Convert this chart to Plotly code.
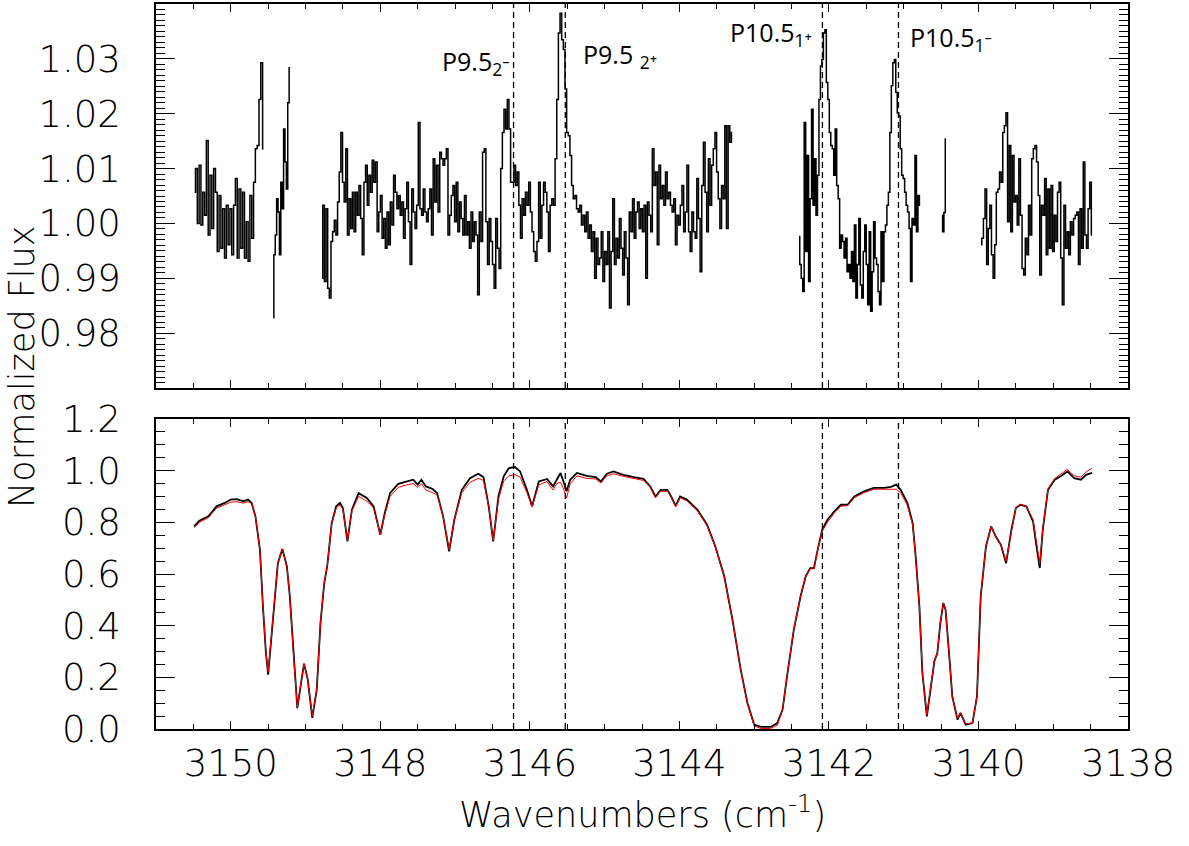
import numpy as np
import plotly.graph_objects as go

# ---------------- Top panel: residual spectrum (segments separated by gaps) ----------------
seg_bounds = [  # (start wavenumber, end wavenumber) for each contiguous data segment
    (3150.484, 3149.562),
    (3149.433, 3149.210),
    (3148.781, 3143.293),
    (3142.400, 3140.780),
    (3140.489, 3140.435),
    (3139.966, 3138.480),
]
seg_a = [1.0057, 1.010, 1.000, 1.0106, 0.9997, 1.0057, 1.0015, 1.0151, 0.9979, 1.0088, 0.9991,
         1.010, 1.0057, 0.9949, 1.0051, 0.9955, 1.0027, 0.9937, 1.0033, 0.9961, 1.0027, 0.9943,
         1.0033, 1.0082, 0.9937, 1.0063, 0.9955, 1.0057, 0.9937, 1.0003, 0.9931, 1.0051, 0.9973,
         1.0075, 1.0136, 1.0142, 1.0226, 1.0293, 1.0136]
seg_b = [0.9828, 0.9943, 0.9979, 1.0045, 1.0021, 0.9943, 1.0075, 1.0027, 1.0172, 1.0112, 1.0063,
         1.022, 1.0284]
seg_c = [0.9900, 1.0033, 0.9894, 1.0027, 0.9882, 0.9864, 0.9967, 0.9985, 1.0006, 0.9979, 1.0039,
         1.0094, 1.0166, 1.0075, 1.0039, 1.0136, 0.9979, 1.0045, 0.9991, 1.0057, 0.9985, 1.0057,
         1.0015, 1.0069, 1.0009, 0.9943, 1.0075, 1.0106, 1.0033, 1.0088, 1.0057, 1.0115, 1.0075,
         1.0112, 0.9985, 1.0021, 1.0051, 0.9973, 1.0009, 0.9955, 1.0021, 0.9961, 1.0039, 0.9997,
         1.0088, 1.0057, 1.0027, 1.0051, 1.0015, 1.0039, 0.9973, 1.0027, 1.0075, 1.0003, 0.9925,
         1.0063, 1.0021, 0.9991, 1.0033, 1.0184, 1.0027, 1.0015, 1.0063, 1.0021, 1.0003, 1.0027,
         1.0063, 0.9979, 1.0118, 1.0039, 1.0106, 1.0021, 1.013, 1.0118, 1.0106, 1.0118, 1.0136,
         0.9979, 1.0015, 1.0051, 1.0069, 1.0003, 1.0075, 0.9985, 1.0039, 1.0009, 0.9979, 1.0051,
         0.9979, 1.0003, 0.9955, 1.0021, 0.9967, 1.0003, 0.9979, 0.9870, 1.0021, 0.9967, 1.013,
         1.0136, 1.0003, 0.9925, 1.0009, 0.9967, 0.9925, 0.9882, 1.0009, 0.9955, 0.9918, 1.010,
         1.0166, 1.0208, 1.0172, 1.0226, 1.0172, 1.0075,
         1.0075, 1.0106, 1.0069, 1.0094, 1.0033, 0.9973, 1.0045, 1.0015, 1.0057, 1.0033, 1.0075,
         1.0021, 0.9985, 0.9949, 0.9931, 0.9967, 1.0075, 0.9973, 1.0033, 1.0075, 1.0057, 1.0021,
         0.9949, 1.0033, 1.0045, 1.0033, 1.0118, 1.0226, 1.0347, 1.0383, 1.0335, 1.0317, 1.0245,
         1.0166, 1.016, 1.0124, 1.0069, 1.0045, 1.0051, 1.0027, 1.0021, 1.0033, 0.9997, 1.0015,
         0.9985, 1.0021, 0.9973, 0.9997, 0.9949, 0.9985, 0.9900, 0.9973, 0.9925, 0.9937, 0.9985,
         0.9894, 0.9949, 0.9925, 0.9985, 0.9846, 0.9949, 1.0045, 0.9925, 0.9973, 0.9937, 1.0009,
         0.9955, 0.9906, 0.9985, 0.9937, 0.9852, 1.0021, 0.9985, 1.0045, 0.9973, 1.0021, 1.0039,
         0.9991, 1.0027, 0.9985, 1.0033, 0.9900, 1.0039, 1.0015, 0.9985, 1.0136, 1.0069, 1.0094,
         0.9961, 1.0106, 1.0045, 1.0069, 1.0033, 1.0094, 1.0045, 1.0057, 1.0033, 1.0021, 1.0045,
         0.9961, 1.0015, 0.9997, 1.0033, 1.0069, 0.9985, 1.0021, 1.0106, 0.9985, 0.9949, 1.0021,
         0.9985, 0.9973, 1.0082, 1.0009, 0.9912, 1.0069, 1.0148, 1.0057, 0.9985, 1.0118, 1.0033,
         1.0106, 1.0136, 1.0166, 1.0094, 1.0045, 0.9991, 1.0069, 1.0045, 1.0178, 0.9991, 1.0178,
         1.0148, 1.0166]
seg_d = [0.9976, 0.9925, 0.9900, 0.9876, 1.0184, 0.9949, 1.0124, 0.9894, 1.0045, 1.0208, 1.0033,
         1.0118, 1.0015, 1.0088, 1.0226, 1.0287, 1.0299, 1.0347, 1.0353, 1.0257, 1.0226, 1.0166,
         1.0142, 1.0136, 1.0088, 1.0172, 1.0069, 1.0045, 0.9955, 0.9979, 0.9967, 0.9937, 0.9973,
         0.9912, 0.9925, 0.9900, 0.9949, 0.9894, 0.9997, 0.9864, 0.9925, 1.0009, 0.9888, 0.9864,
         0.9949, 0.9997, 0.9925, 0.9852, 0.9985, 0.9840, 0.9912, 1.0003, 0.9937, 0.9925, 0.9876,
         0.9852, 0.9985, 0.9894, 0.9985, 0.9997, 1.0033, 1.0057, 1.0166, 1.0251, 1.0293, 1.0299,
         1.0239, 1.0202, 1.0196, 1.0136, 1.0088, 1.0082, 1.0057, 1.0033, 1.0021, 0.9991, 0.9894,
         1.0009, 0.9997, 1.0124, 0.9985, 1.0051, 1.0033]
seg_e = [1.0015, 0.9985, 1.0020, 1.0154]
seg_f = [0.9961, 0.9973, 1.0009, 1.0063, 0.9925, 0.9991, 1.0033, 0.9943, 0.9900, 0.9961, 1.0057,
         1.0063, 1.0094, 1.0075, 1.0166, 1.0178, 1.0202, 1.0003, 1.0142, 0.9985, 1.0124, 1.0039,
         1.0051, 0.9997, 1.0118, 1.0015, 0.9918, 0.9906, 0.9973, 0.9943, 1.0033, 0.9979, 1.0118,
         1.0136, 1.0142, 1.0112, 1.0051, 0.9906, 1.0033, 1.0015, 1.0082, 0.9943, 1.0063, 0.9955,
         1.0069, 0.9949, 1.0015, 0.9967, 1.0057, 1.0075, 0.9937, 0.9852, 1.0033, 0.9955, 0.9985,
         0.9943, 1.0003, 0.9979, 1.0009, 1.0015, 1.0021, 0.9925, 1.0027, 0.9955, 1.0112, 0.9979,
         0.9955, 1.0027, 1.0075, 0.9979]
top_segments = [seg_a, seg_b, seg_c, seg_d, seg_e, seg_f]

# ---------------- Bottom panel: observed (black) and model (red) ----------------
wn_bottom = [3150.49, 3150.42, 3150.30, 3150.19, 3150.08, 3150.00, 3149.92, 3149.83, 3149.77, 3149.72,
             3149.67, 3149.61, 3149.57, 3149.53, 3149.50, 3149.47, 3149.41, 3149.37, 3149.31, 3149.25,
             3149.21, 3149.16, 3149.11, 3149.06, 3149.02, 3148.97, 3148.91, 3148.85, 3148.80, 3148.75,
             3148.71, 3148.65, 3148.59, 3148.54, 3148.50, 3148.44, 3148.38, 3148.29, 3148.18, 3148.09,
             3148.00, 3147.94, 3147.87, 3147.76, 3147.65, 3147.56, 3147.50, 3147.45, 3147.39, 3147.30,
             3147.24, 3147.16, 3147.08, 3147.01, 3146.91, 3146.80, 3146.69, 3146.62, 3146.55, 3146.49,
             3146.42, 3146.35, 3146.28, 3146.20, 3146.13, 3146.04, 3145.97, 3145.88, 3145.77, 3145.69,
             3145.64, 3145.59, 3145.55, 3145.51, 3145.46, 3145.37, 3145.24, 3145.12, 3145.05, 3144.97,
             3144.88, 3144.75, 3144.61, 3144.48, 3144.39, 3144.32, 3144.25, 3144.16, 3144.11, 3144.05,
             3143.99, 3143.90, 3143.76, 3143.63, 3143.52, 3143.40, 3143.29, 3143.18, 3143.09, 3143.00,
             3142.91, 3142.78, 3142.69, 3142.62, 3142.56, 3142.47, 3142.38, 3142.31, 3142.25, 3142.20,
             3142.16, 3142.09, 3142.02, 3141.93, 3141.84, 3141.75, 3141.66, 3141.53, 3141.40, 3141.26,
             3141.17, 3141.10, 3141.04, 3140.95, 3140.88, 3140.84, 3140.79, 3140.75, 3140.69, 3140.64,
             3140.59, 3140.55, 3140.51, 3140.47, 3140.44, 3140.39, 3140.35, 3140.28, 3140.24, 3140.17,
             3140.08, 3140.02, 3139.97, 3139.90, 3139.83, 3139.77, 3139.70, 3139.63, 3139.56, 3139.50,
             3139.44, 3139.36, 3139.27, 3139.23, 3139.18, 3139.14, 3139.07, 3138.98, 3138.90, 3138.81,
             3138.72, 3138.63, 3138.56, 3138.48]
flux_obs = [0.784, 0.806, 0.823, 0.862, 0.875, 0.888, 0.890, 0.881, 0.888, 0.875,
            0.823, 0.694, 0.475, 0.294, 0.210, 0.307, 0.513, 0.642, 0.697, 0.630,
            0.513, 0.281, 0.081, 0.178, 0.253, 0.191, 0.043, 0.152, 0.410, 0.565,
            0.630, 0.797, 0.862, 0.875, 0.855, 0.726, 0.849, 0.913, 0.894, 0.862,
            0.752, 0.836, 0.913, 0.949, 0.958, 0.965, 0.946, 0.965, 0.939, 0.929,
            0.913, 0.823, 0.688, 0.810, 0.926, 0.971, 0.988, 0.975, 0.862, 0.726,
            0.900, 0.978, 1.010, 1.014, 0.997, 0.926, 0.862, 0.958, 0.968, 0.939,
            0.965, 0.991, 0.958, 0.920, 0.965, 0.991, 0.980, 0.975, 0.958, 0.988,
            0.997, 0.984, 0.975, 0.968, 0.939, 0.900, 0.926, 0.926, 0.900, 0.864,
            0.900, 0.888, 0.849, 0.791, 0.707, 0.591, 0.423, 0.230, 0.101, 0.017,
            0.008, 0.008, 0.023, 0.075, 0.204, 0.384, 0.513, 0.591, 0.623, 0.623,
            0.681, 0.771, 0.810, 0.842, 0.868, 0.868, 0.900, 0.920, 0.933, 0.933,
            0.937, 0.946, 0.926, 0.875, 0.797, 0.668, 0.475, 0.217, 0.049, 0.152,
            0.262, 0.294, 0.410, 0.488, 0.462, 0.281, 0.126, 0.036, 0.062, 0.017,
            0.023, 0.126, 0.513, 0.707, 0.784, 0.746, 0.713, 0.642, 0.771, 0.855,
            0.868, 0.862, 0.804, 0.720, 0.623, 0.771, 0.926, 0.965, 0.978, 0.997,
            0.971, 0.965, 0.984, 0.991]
flux_model = [0.780, 0.800, 0.818, 0.855, 0.868, 0.878, 0.880, 0.874, 0.880, 0.872,
              0.823, 0.694, 0.475, 0.300, 0.222, 0.310, 0.513, 0.642, 0.697, 0.630,
              0.513, 0.281, 0.085, 0.178, 0.253, 0.191, 0.050, 0.152, 0.410, 0.565,
              0.630, 0.795, 0.855, 0.868, 0.850, 0.730, 0.845, 0.900, 0.882, 0.855,
              0.752, 0.830, 0.900, 0.935, 0.945, 0.950, 0.935, 0.950, 0.925, 0.915,
              0.905, 0.823, 0.695, 0.810, 0.915, 0.955, 0.970, 0.962, 0.862, 0.730,
              0.890, 0.960, 0.980, 0.985, 0.975, 0.915, 0.860, 0.945, 0.958, 0.925,
              0.950, 0.955, 0.930, 0.894, 0.950, 0.980, 0.970, 0.968, 0.952, 0.980,
              0.988, 0.978, 0.970, 0.962, 0.935, 0.895, 0.920, 0.920, 0.897, 0.860,
              0.895, 0.883, 0.845, 0.788, 0.705, 0.591, 0.423, 0.230, 0.101, 0.012,
              0.002, 0.002, 0.015, 0.075, 0.204, 0.384, 0.513, 0.591, 0.620, 0.620,
              0.681, 0.765, 0.800, 0.835, 0.862, 0.865, 0.895, 0.915, 0.928, 0.928,
              0.928, 0.928, 0.915, 0.865, 0.790, 0.668, 0.475, 0.217, 0.055, 0.152,
              0.262, 0.294, 0.410, 0.488, 0.462, 0.281, 0.126, 0.040, 0.062, 0.020,
              0.023, 0.126, 0.513, 0.707, 0.784, 0.746, 0.713, 0.650, 0.771, 0.858,
              0.870, 0.862, 0.810, 0.730, 0.640, 0.775, 0.930, 0.970, 0.985, 1.005,
              0.980, 0.975, 0.995, 1.010]

# ---------------- Line identifications ----------------
line_wn = [3146.218, 3145.526, 3142.087, 3141.070]
line_names = ["P9.5", "P9.5 ", "P10.5", "P10.5"]
line_sub = ["2", "2", "1", "1"]
line_sign = ["⁻", "⁺", "⁺", "⁻"]
label_wn = [3146.718, 3144.789, 3142.773, 3140.368]
label_flux = [1.0293, 1.0306, 1.0346, 1.0337]

# ---------------- Build top trace (gaps as None) ----------------
top_x, top_y = [], []
for (w0, w1), vals in zip(seg_bounds, top_segments):
    xs = np.linspace(w0, w1, len(vals))
    top_x.extend(xs.tolist() + [None])
    top_y.extend(list(vals) + [None])

fig = go.Figure()
fig.add_trace(go.Scatter(x=top_x, y=top_y, mode="lines", line=dict(color="black", width=1.5, shape="hvh"),
                         xaxis="x", yaxis="y", showlegend=False, connectgaps=False))
fig.add_trace(go.Scatter(x=wn_bottom, y=flux_obs, mode="lines", line=dict(color="black", width=1.8),
                         xaxis="x2", yaxis="y2", showlegend=False))
fig.add_trace(go.Scatter(x=wn_bottom, y=flux_model, mode="lines", line=dict(color="red", width=1.0),
                         xaxis="x2", yaxis="y2", showlegend=False))

tick_font = dict(family="DejaVu Sans, sans-serif", size=37, color="black", weight=200)
title_font = dict(family="DejaVu Sans, sans-serif", size=35, color="black", weight=200)

xcommon = dict(range=[3151, 3138], tickmode="linear", tick0=3138, dtick=2, ticks="inside", ticklen=8,
               tickwidth=1.2, tickcolor="black", showline=True, linecolor="black", linewidth=1.5,
               mirror="allticks", showgrid=False, zeroline=False, automargin=False,
               minor=dict(tickmode="linear", tick0=3138, dtick=0.5, ticks="inside", ticklen=5,
                          tickwidth=1.0, tickcolor="black", showgrid=False))
ycommon = dict(ticks="inside", ticklen=19, tickwidth=1.2, tickcolor="black", showline=True,
               linecolor="black", linewidth=1.5, mirror="allticks", showgrid=False, zeroline=False,
               tickfont=tick_font, ticklabelstandoff=26, automargin=False)

fig.update_layout(
    width=1189, height=846,
    margin=dict(l=156, r=61, t=4, b=117, autoexpand=False),
    paper_bgcolor="white", plot_bgcolor="white",
    xaxis=dict(**xcommon, anchor="y", domain=[0, 1], showticklabels=False, matches="x2"),
    xaxis2=dict(**xcommon, anchor="y2", domain=[0, 1], showticklabels=True, tickfont=tick_font,
                ticklabelstandoff=1),
    yaxis=dict(**ycommon, anchor="x", domain=[0.4703, 1.0], range=[0.97, 1.04],
               tickmode="array", tickvals=[0.98, 0.99, 1.00, 1.01, 1.02, 1.03],
               ticktext=["0.98", "0.99", "1.00", "1.01", "1.02", "1.03"],
               minor=dict(tickmode="linear", tick0=0.97, dtick=0.001, ticks="inside", ticklen=9,
                          tickwidth=1.0, tickcolor="black", showgrid=False)),
    yaxis2=dict(**ycommon, anchor="x2", domain=[0, 0.4276], range=[0, 1.2],
                tickmode="array", tickvals=[0.0, 0.2, 0.4, 0.6, 0.8, 1.0, 1.2],
                ticktext=["0.0", "0.2", "0.4", "0.6", "0.8", "1.0", "1.2"],
                minor=dict(tickmode="linear", tick0=0, dtick=0.05, ticks="inside", ticklen=9,
                           tickwidth=1.0, tickcolor="black", showgrid=False)),
)

# dashed line-identification markers in both panels
for w in line_wn:
    for xr, yr in (("x", "y domain"), ("x2", "y2 domain")):
        fig.add_shape(type="line", x0=w, x1=w, y0=0, y1=1, xref=xr, yref=yr,
                      line=dict(color="black", width=1.3, dash="6px,4px"), layer="above")

for name, sub, sign, w, f in zip(line_names, line_sub, line_sign, label_wn, label_flux):
    txt = f"{name}<sub>{sub}<span style='font-size:22px'>{sign}</span></sub>"
    fig.add_annotation(x=w, y=f, xref="x", yref="y", text=txt, showarrow=False,
                       font=dict(family="Open Sans, Noto Sans, sans-serif", size=25, color="black"),
                       xanchor="center", yanchor="middle")

fig.add_annotation(x=-0.1385, y=0.5, xref="paper", yref="paper", text="Normalized Flux", textangle=-90,
                   showarrow=False, font=title_font, xanchor="center", yanchor="middle")
fig.add_annotation(x=0.5, y=-0.1145, xref="paper", yref="paper", text="Wavenumbers (cm<sup>-1</sup>)",
                   showarrow=False, font=title_font, xanchor="center", yanchor="middle")

fig.write_html("out.html")
